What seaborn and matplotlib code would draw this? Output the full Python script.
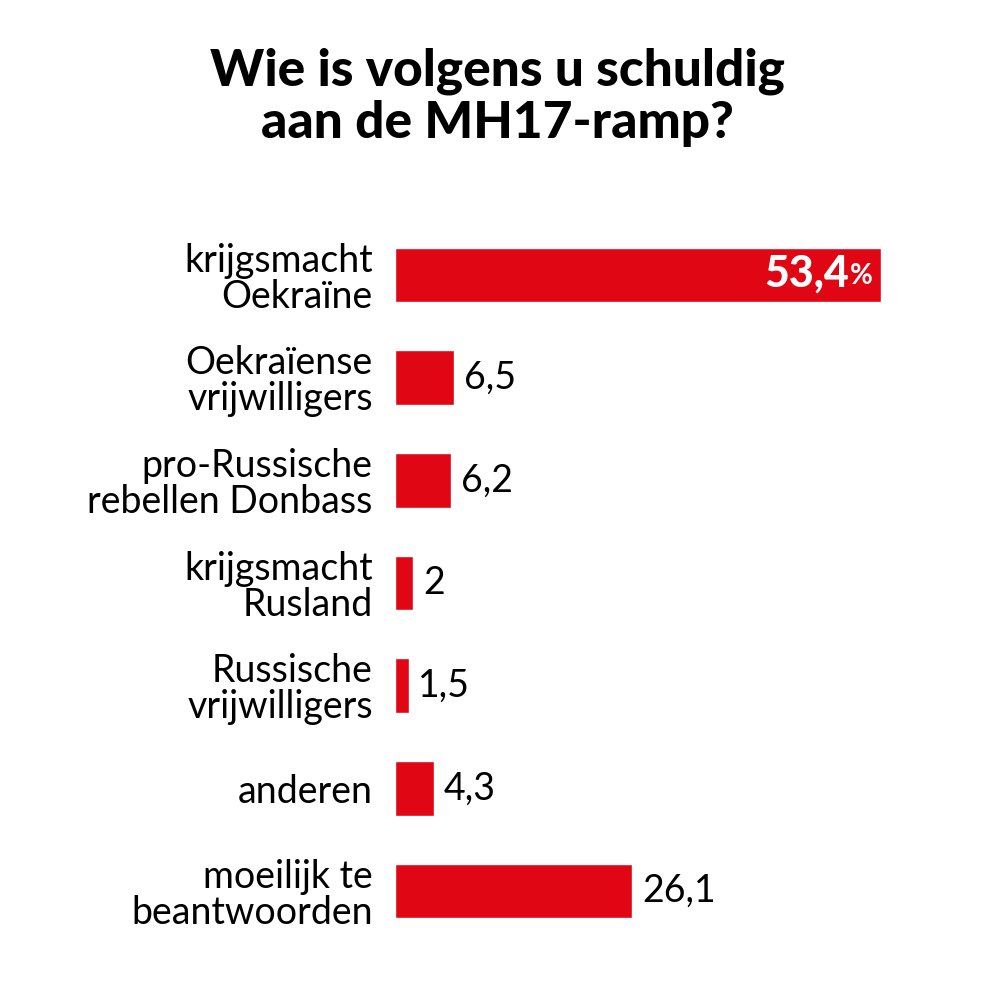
import matplotlib
matplotlib.use("Agg")
import matplotlib.pyplot as plt
import seaborn as sns
import pandas as pd

categories = [
    "krijgsmacht\nOekraïne",
    "Oekraïense\nvrijwilligers",
    "pro-Russische\nrebellen Donbass",
    "krijgsmacht\nRusland",
    "Russische\nvrijwilligers",
    "anderen",
    "moeilijk te\nbeantwoorden",
]
values = [53.4, 6.5, 6.2, 2, 1.5, 4.3, 26.1]
value_labels = ["53,4", "6,5", "6,2", "2", "1,5", "4,3", "26,1"]
title = "Wie is volgens u schuldig\naan de MH17-ramp?"

RED = "#E10613"

sns.set_theme(style="white")
plt.rcParams["font.family"] = ["Lato", "DejaVu Sans"]

df = pd.DataFrame({"cat": categories, "val": values})

fig = plt.figure(figsize=(10, 9.91), dpi=100)
ax = fig.add_axes([0.395, 0.0491, 0.555, 0.7252])
sns.barplot(data=df, x="val", y="cat", ax=ax, color=RED, saturation=1,
            width=0.53, orient="h")
ax.set_xlim(0, 61)
ax.set_ylim(6.5, -0.5)
ax.set_xlabel("")
ax.set_ylabel("")
ax.set_xticks([])
ax.tick_params(axis="y", length=0, pad=16, labelsize=27)
for lab in ax.get_yticklabels():
    lab.set_fontweight("normal")
    lab.set_linespacing(1.0)
    lab.set_color("black")
for s in ax.spines.values():
    s.set_visible(False)

for i, (v, t) in enumerate(zip(values, value_labels)):
    if i == 0:
        ax.annotate("%", xy=(v, i), xytext=(-6, -1), textcoords="offset points",
                    ha="right", va="center", color="white", fontsize=20,
                    fontweight="bold")
        ax.annotate(t, xy=(v, i), xytext=(-23, 1), textcoords="offset points",
                    ha="right", va="center", color="white", fontsize=31,
                    fontweight="black")
    else:
        ax.annotate(t, xy=(v, i), xytext=(7, 0), textcoords="offset points",
                    ha="left", va="center", color="black", fontsize=27,
                    fontweight="normal")

fig.text(0.497, 0.902, title, ha="center", va="center", fontsize=37,
         fontweight="black", linespacing=1.15, color="black")

fig.savefig("out.png", dpi=100, facecolor="white")
